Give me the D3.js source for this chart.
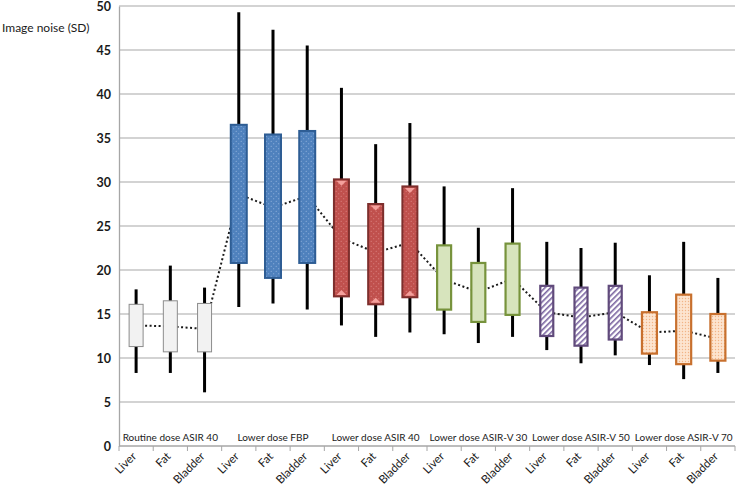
<!DOCTYPE html>
<html>
<head>
<meta charset="utf-8">
<script src="https://cdn.jsdelivr.net/npm/d3@7"></script>
<style>
  body { margin: 0; background: #fff; }
  svg text { font-family: Lato, "Open Sans", sans-serif; fill: #1a1a1a; }
</style>
</head>
<body>
<svg id="chart" width="737" height="489"></svg>
<script>
// groups and categories
var groups = ["Routine dose ASIR 40", "Lower dose FBP", "Lower dose ASIR 40",
              "Lower dose ASIR-V 30", "Lower dose ASIR-V 50", "Lower dose ASIR-V 70"];
var cats = ["Liver", "Fat", "Bladder"];
var yticks = [0, 5, 10, 15, 20, 25, 30, 35, 40, 45, 50];

// per box, in order group by group: Liver, Fat, Bladder
var whiskerLo = [8.3, 8.3, 6.1,   15.8, 16.2, 15.5,  13.7, 12.4, 12.9,  12.7, 11.7, 12.4,  10.9, 9.4, 10.3,  9.2, 7.6, 8.3];
var boxLo     = [11.3, 10.7, 10.7, 20.8, 19.1, 20.8,  17.0, 16.1, 16.9,  15.5, 14.1, 14.9,  12.5, 11.4, 12.1,  10.5, 9.3, 9.7];
var means     = [13.7, 13.6, 13.3, 28.6, 27.1, 28.4,  23.6, 22.0, 23.1,  18.9, 17.5, 19.0,  15.2, 14.6, 15.2,  12.9, 13.1, 12.2];
var boxHi     = [16.1, 16.5, 16.2, 36.5, 35.4, 35.8,  30.3, 27.5, 29.5,  22.8, 20.8, 23.0,  18.2, 18.0, 18.2,  15.2, 17.2, 15.0];
var whiskerHi = [17.8, 20.5, 18.0, 49.3, 47.3, 45.5,  40.7, 34.3, 36.7,  29.5, 24.8, 29.3,  23.2, 22.5, 23.1,  19.4, 23.2, 19.1];

// box styles per group
var styles = [
    { fill: "#f2f2f2", stroke: "#8c8c8c", sw: 1,   w: 14 },
    { fill: "url(#pBlue)", stroke: "#2e5d94", sw: 2, w: 16 },
    { fill: "url(#pRed)", stroke: "#7d2e2c", sw: 2, w: 15 },
    { fill: "#d7e4bd", stroke: "#77933c", sw: 2.2, w: 14 },
    { fill: "url(#pPurple)", stroke: "#604a7b", sw: 2.2, w: 13 },
    { fill: "url(#pOrange)", stroke: "#c8702e", sw: 2.2, w: 15 }
];

var svg = d3.select("#chart");
var pLeft = 119, pRight = 735, pTop = 6, pBottom = 446;

var idx = d3.range(whiskerLo.length);
var x = d3.scaleBand().domain(idx).range([pLeft, pRight]);
var y = d3.scaleLinear().domain([0, 50]).range([pBottom, pTop]);

// patterns
var defs = svg.append("defs");
var pb = defs.append("pattern").attr("id", "pBlue").attr("patternUnits", "userSpaceOnUse")
    .attr("width", 5).attr("height", 5);
pb.append("rect").attr("width", 5).attr("height", 5).attr("fill", "#4f81bd");
pb.append("circle").attr("cx", 1.2).attr("cy", 1.2).attr("r", 0.55).attr("fill", "#9dbbe2");
pb.append("circle").attr("cx", 3.7).attr("cy", 3.7).attr("r", 0.55).attr("fill", "#9dbbe2");

var pr = defs.append("pattern").attr("id", "pRed").attr("patternUnits", "userSpaceOnUse")
    .attr("width", 5).attr("height", 5);
pr.append("rect").attr("width", 5).attr("height", 5).attr("fill", "#c0504d");
pr.append("circle").attr("cx", 1.2).attr("cy", 1.2).attr("r", 0.55).attr("fill", "#e08c89");
pr.append("circle").attr("cx", 3.7).attr("cy", 3.7).attr("r", 0.55).attr("fill", "#e08c89");

var pp = defs.append("pattern").attr("id", "pPurple").attr("patternUnits", "userSpaceOnUse")
    .attr("width", 4).attr("height", 4).attr("patternTransform", "rotate(-45)");
pp.append("rect").attr("width", 4).attr("height", 4).attr("fill", "#ffffff");
pp.append("rect").attr("width", 4).attr("height", 1.6).attr("fill", "#7a64a0");

var po = defs.append("pattern").attr("id", "pOrange").attr("patternUnits", "userSpaceOnUse")
    .attr("width", 3).attr("height", 3);
po.append("rect").attr("width", 3).attr("height", 3).attr("fill", "#fde4cf");
po.append("circle").attr("cx", 1.5).attr("cy", 1.5).attr("r", 0.7).attr("fill", "#f2b486");

// gridlines
svg.append("g").selectAll("line").data(yticks.filter(function(d) { return d > 0; }))
    .enter().append("line")
    .attr("x1", pLeft).attr("x2", pRight)
    .attr("y1", function(d) { return y(d); }).attr("y2", function(d) { return y(d); })
    .attr("stroke", "#c4c4c4").attr("stroke-width", 1.3);

// y axis
var ya = svg.append("g").attr("transform", "translate(" + pLeft + ",0)")
    .call(d3.axisLeft(y).tickValues(yticks).tickSize(0).tickPadding(8));
ya.select(".domain").attr("stroke", "#a6a6a6").attr("stroke-width", 1.3);
ya.selectAll("text").style("font-size", "12.5px").style("font-weight", "bold")
    .style("font-family", "Lato, sans-serif").attr("fill", "#1a1a1a");

// x axis line and ticks at band edges
svg.append("line").attr("x1", pLeft).attr("x2", pRight).attr("y1", pBottom).attr("y2", pBottom)
    .attr("stroke", "#a6a6a6").attr("stroke-width", 1.3);
svg.append("g").selectAll("line").data(d3.range(whiskerLo.length + 1))
    .enter().append("line")
    .attr("x1", function(d) { return pLeft + d * x.bandwidth(); })
    .attr("x2", function(d) { return pLeft + d * x.bandwidth(); })
    .attr("y1", pBottom).attr("y2", pBottom + 5)
    .attr("stroke", "#a6a6a6").attr("stroke-width", 1);

var cx = function(i) { return x(i) + x.bandwidth() / 2; };

// whiskers
svg.append("g").selectAll("line").data(idx).enter().append("line")
    .attr("x1", cx).attr("x2", cx)
    .attr("y1", function(i) { return y(whiskerLo[i]); })
    .attr("y2", function(i) { return y(whiskerHi[i]); })
    .attr("stroke", "#000").attr("stroke-width", 3);

// mean line
svg.append("path").datum(idx)
    .attr("d", d3.line().x(cx).y(function(i) { return y(means[i]); }))
    .attr("fill", "none").attr("stroke", "#1a1a1a").attr("stroke-width", 2)
    .attr("stroke-dasharray", "2,2.5");

// boxes
svg.append("g").selectAll("rect").data(idx).enter().append("rect")
    .attr("x", function(i) { return cx(i) - styles[Math.floor(i / 3)].w / 2; })
    .attr("width", function(i) { return styles[Math.floor(i / 3)].w; })
    .attr("y", function(i) { return y(boxHi[i]); })
    .attr("height", function(i) { return y(boxLo[i]) - y(boxHi[i]); })
    .attr("fill", function(i) { return styles[Math.floor(i / 3)].fill; })
    .attr("stroke", function(i) { return styles[Math.floor(i / 3)].stroke; })
    .attr("stroke-width", function(i) { return styles[Math.floor(i / 3)].sw; });

// little triangles on the red boxes
var redIdx = idx.filter(function(i) { return Math.floor(i / 3) == 2; });
svg.append("g").selectAll("path.tt").data(redIdx).enter().append("path")
    .attr("d", function(i) {
        var c = cx(i), t = y(boxHi[i]) + 1.5;
        return "M" + (c - 5) + "," + t + "L" + (c + 5) + "," + t + "L" + c + "," + (t + 5) + "Z";
    })
    .attr("fill", "#f4a09c");
svg.append("g").selectAll("path.tb").data(redIdx).enter().append("path")
    .attr("d", function(i) {
        var c = cx(i), b = y(boxLo[i]) - 1.5;
        return "M" + (c - 5) + "," + b + "L" + (c + 5) + "," + b + "L" + c + "," + (b - 5) + "Z";
    })
    .attr("fill", "#f4a09c");

// group labels
svg.append("g").selectAll("text").data(groups).enter().append("text")
    .attr("x", function(d, g) { return pLeft + (g * 3 + 1.5) * x.bandwidth(); })
    .attr("y", 441)
    .attr("text-anchor", "middle")
    .style("font-size", "10px")
    .text(function(d) { return d; });

// category labels, rotated
svg.append("g").selectAll("text").data(idx).enter().append("text")
    .attr("transform", function(i) { return "translate(" + (cx(i) + 1) + "," + 457 + ") rotate(-45)"; })
    .attr("text-anchor", "end")
    .style("font-size", "11.5px")
    .text(function(i) { return cats[i % 3]; });

// y axis title
svg.append("text").attr("x", 2).attr("y", 32)
    .style("font-size", "12px")
    .text("Image noise (SD)");
</script>
</body>
</html>
